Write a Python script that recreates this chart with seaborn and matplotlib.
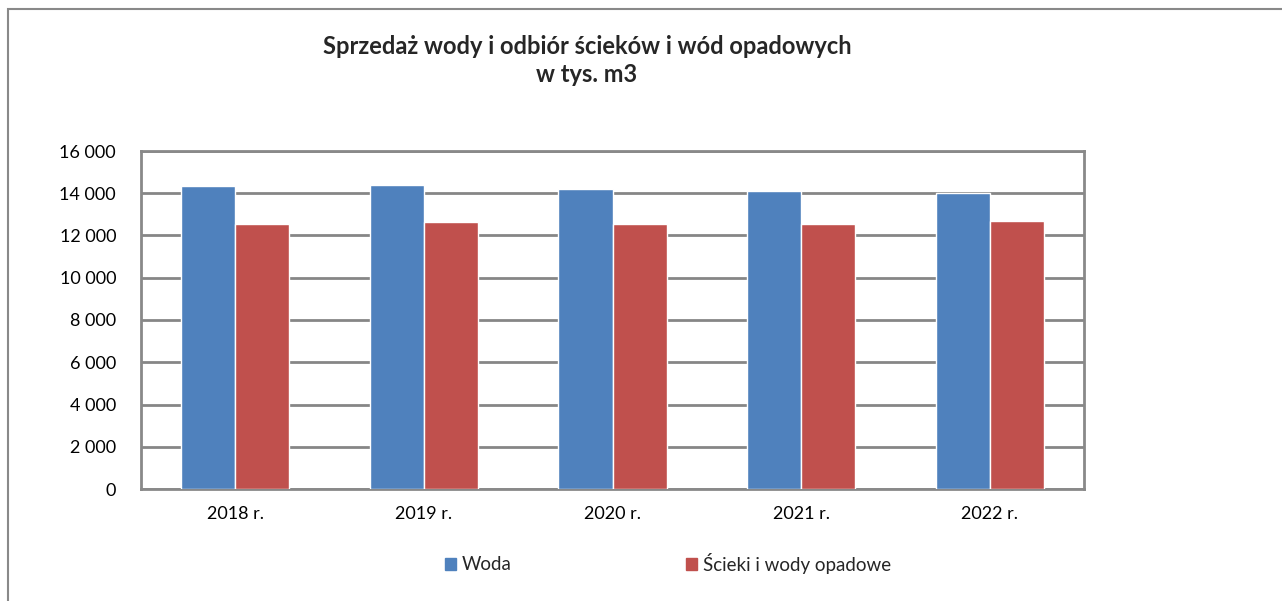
import matplotlib
matplotlib.use("Agg")
import matplotlib.pyplot as plt
import seaborn as sns
import pandas as pd
from matplotlib.patches import Rectangle
from matplotlib.ticker import FuncFormatter

years = ["2018 r.", "2019 r.", "2020 r.", "2021 r.", "2022 r."]
woda = [14330, 14405, 14200, 14090, 13995]
scieki = [12545, 12620, 12545, 12560, 12685]
series_names = ["Woda", "Ścieki i wody opadowe"]
colors = ["#4F81BD", "#C0504D"]

df = pd.DataFrame({
    "rok": years * 2,
    "wartosc": woda + scieki,
    "seria": [series_names[0]] * len(years) + [series_names[1]] * len(years),
})

sns.set_theme(style="white")
plt.rcParams["font.family"] = ["Lato", "DejaVu Sans"]

fig = plt.figure(figsize=(12.82, 6.01), dpi=100)
ax = fig.add_axes([141 / 1282, 1 - 489 / 601, (1084 - 141) / 1282, (489 - 151) / 601])

sns.barplot(data=df, x="rok", y="wartosc", hue="seria", palette=colors,
            width=0.573, gap=0, saturation=1, ax=ax, legend=False, zorder=3)

ax.set_ylim(0, 16000)
ax.set_yticks(range(0, 16001, 2000))
ax.yaxis.set_major_formatter(FuncFormatter(lambda v, p: f"{int(v):,}".replace(",", " ")))
ax.set_xlabel("")
ax.set_ylabel("")
ax.grid(axis="y", color="#868686", linewidth=2, zorder=0)
ax.set_axisbelow(True)
for s in ax.spines.values():
    s.set_visible(True)
    s.set_color("#898989")
    s.set_linewidth(2)
ax.tick_params(axis="both", length=0, labelsize=13, colors="#000000")
ax.tick_params(axis="y", pad=18)
ax.tick_params(axis="x", pad=12)

fig.text(587 / 1282, 1 - 46 / 601, "Sprzedaż wody i odbiór ścieków i wód opadowych",
         ha="center", va="center", fontsize=17, fontweight="bold")
fig.text(587 / 1282, 1 - 74 / 601, "w tys. m3",
         ha="center", va="center", fontsize=17, fontweight="bold")

handles = [Rectangle((0, 0), 1, 1, color=c) for c in colors]
fig.legend(handles, series_names, loc="center", bbox_to_anchor=(668 / 1282, 1 - 563 / 601),
           ncol=2, frameon=False, fontsize=13.5, handlelength=0.6, handleheight=0.6,
           handletextpad=0.3, columnspacing=9.3)

fig.patches.append(Rectangle((8 / 1282, -0.1), 1.2, 1 - 9 / 601 + 0.1,
                             transform=fig.transFigure, fill=False,
                             edgecolor="#898989", linewidth=1.5))

fig.savefig("out.png", dpi=100)
